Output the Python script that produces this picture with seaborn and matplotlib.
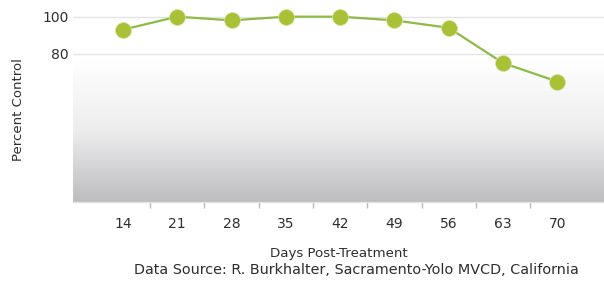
import numpy as np
import pandas as pd
import matplotlib
matplotlib.use("Agg")
import matplotlib.pyplot as plt
from matplotlib.colors import LinearSegmentedColormap
import seaborn as sns

days = ["14", "21", "28", "35", "42", "49", "56", "63", "70"]
percent_control = [93, 100, 98, 100, 100, 98, 94, 75, 65]
y_ticks = [80, 100]

sns.set_theme(style="white")
plt.rcParams['font.family'] = ['DejaVu Sans']

fig = plt.figure(figsize=(6.04, 2.82), dpi=100)
ax = fig.add_axes([73/604, 80/282, 1 - 73/604, 202/282])

xlim = (-0.92, 8.86)
ylim = (0, 109)

# gradient background
grad_top = 77
yy = np.linspace(ylim[0], ylim[1], 400)
vals = np.clip((grad_top - yy) / (grad_top - ylim[0]), 0, 1)
img = vals[:, None]
cmap = LinearSegmentedColormap.from_list("g", ["#ffffff", "#ededee", "#bdbdc0"], N=256)
ax.imshow(img, extent=[xlim[0], xlim[1], ylim[0], ylim[1]], origin="lower",
          aspect="auto", cmap=cmap, vmin=0, vmax=1, zorder=0, interpolation="bilinear")

for yt in y_ticks:
    ax.axhline(yt, color="#e4e4e4", lw=1.0, zorder=1)

df = pd.DataFrame({"Days": days, "Percent": percent_control})
sns.lineplot(data=df, x="Days", y="Percent", sort=False, ax=ax, color="#8dbb45",
             lw=1.6, marker="o", markersize=11.5, markerfacecolor="#a8c136",
             markeredgecolor="#d8e6a8", markeredgewidth=0.5, zorder=3)

ax.set_xlim(*xlim)
ax.set_ylim(*ylim)
ax.set_yticks(y_ticks)
ax.set_yticklabels([str(v) for v in y_ticks], fontsize=10, color="#2e2e2e")
ax.set_xticks(range(len(days)))
ax.set_xticklabels(days, fontsize=10, color="#2e2e2e")
ax.set_xticks([i + 0.5 for i in range(len(days) - 1)], minor=True)
ax.tick_params(axis="x", which="major", length=0, pad=11)
ax.tick_params(axis="x", which="minor", length=4, color="#bbbbbb", width=1, bottom=True)
ax.tick_params(axis="y", length=0, pad=3)

for s in ["top", "right", "left"]:
    ax.spines[s].set_visible(False)
ax.spines["bottom"].set_color("#e2e2e2")
ax.spines["bottom"].set_linewidth(1.0)

ax.set_xlabel("")
ax.set_ylabel("")
fig.text(19/604, 1 - 110/282, "Percent Control", rotation=90, ha="center", va="center",
         fontsize=9.5, color="#2e2e2e")

fig.text(339/604, 1 - 253/282, "Days Post-Treatment", ha="center", va="center",
         fontsize=9.6, color="#2e2e2e")
fig.text(356/604, 1 - 270/282, "Data Source: R. Burkhalter, Sacramento-Yolo MVCD, California",
         ha="center", va="center", fontsize=10.4, color="#2e2e2e")

fig.savefig("out.png", dpi=100)
